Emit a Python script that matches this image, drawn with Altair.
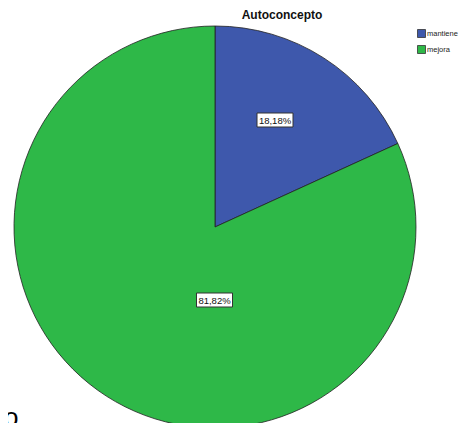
import altair as alt
import pandas as pd

categories = ["mantiene", "mejora"]
percentages = [18.18, 81.82]
labels = ["18,18%", "81,82%"]
colors = ["#3E58AC", "#2EB848"]

df = pd.DataFrame({"cat": categories, "pct": percentages, "label": labels,
                   "order": [0, 1]})

W, H = 453, 415
cx, cy, r = 207, 219, 201

pie = alt.Chart(df).mark_arc(stroke="#222222", strokeWidth=0.8).encode(
    theta=alt.Theta("pct:Q", stack=True),
    color=alt.Color("cat:N", sort=categories,
                    scale=alt.Scale(domain=categories, range=colors),
                    legend=alt.Legend(title=None, orient="none", legendX=409, legendY=21,
                                      symbolType="square", symbolSize=64,
                                      symbolStrokeColor="#333333", symbolStrokeWidth=0.8,
                                      symbolOpacity=1,
                                      labelFontSize=7.5, labelFont="Liberation Sans",
                                      labelColor="#222222", rowPadding=3,
                                      labelOffset=1, labelLimit=60, padding=0)),
    order=alt.Order("order:Q"),
    x=alt.value(cx), y=alt.value(cy), radius=alt.value(r),
)

label_pos = [(267, 112), (206.5, 292)]
layers = [pie]
for lab, (lx, ly) in zip(labels, label_pos):
    d = pd.DataFrame({"label": [lab]})
    layers.append(alt.Chart(d).mark_rect(fill="white", stroke="#333333", strokeWidth=1).encode(
        x=alt.value(lx - 18), x2=alt.value(lx + 18),
        y=alt.value(ly - 7), y2=alt.value(ly + 7)))
    layers.append(alt.Chart(d).mark_text(font="Liberation Sans", fontSize=9.5, color="#111111",
                                         align="center", baseline="middle").encode(
        x=alt.value(lx), y=alt.value(ly + 0.5), text="label:N"))

title = alt.Chart(pd.DataFrame({"t": ["Autoconcepto"]})).mark_text(
    font="Liberation Sans", fontSize=12, fontWeight="bold", color="#111111",
    align="center", baseline="middle").encode(
    x=alt.value(274), y=alt.value(7), text="t:N")
layers.append(title)

stray = alt.Chart(pd.DataFrame({"t": ["o"]})).mark_text(
    font="Liberation Sans", fontSize=26, color="#000000",
    align="left", baseline="alphabetic").encode(
    x=alt.value(-4), y=alt.value(418), text="t:N")
layers.append(stray)

chart = alt.layer(*layers).properties(
    width=W, height=H, autosize=alt.AutoSizeParams(type="none"), padding=0
).configure_view(stroke=None)

chart.save("out.html", embed_options={"renderer": "svg", "actions": False})
